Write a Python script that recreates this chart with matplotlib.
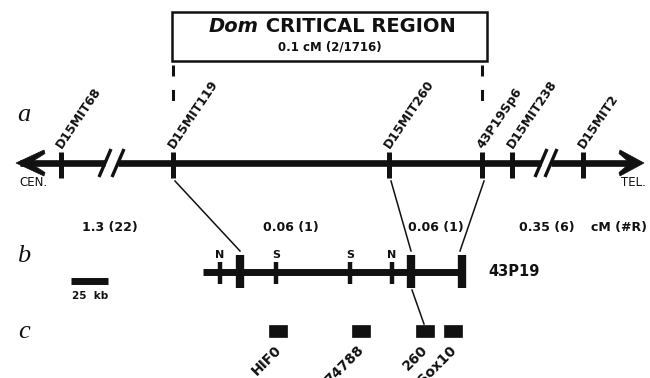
import matplotlib
matplotlib.use("Agg")
import matplotlib.pyplot as plt
from matplotlib.patches import Rectangle, Polygon
from matplotlib.offsetbox import TextArea, HPacker, AnnotationBbox

# ---------------- data ----------------
# panel a: genetic map markers (position along drawn map)
markers_a = ["D15MIT68", "D15MIT119", "D15MIT260", "43P19Sp6", "D15MIT238", "D15MIT2"]
markers_a_pos = [61, 173, 389, 482, 512, 583]
# intervals: genetic distance in cM (number of recombinants)
interval_labels = ["1.3 (22)", "0.06 (1)", "0.06 (1)", "0.35 (6)", "cM (#R)"]
interval_pos = [110, 291, 436, 547, 619]
# panel b: BAC 43P19 restriction map
sites_b = ["N", "S", "S", "N"]
sites_b_pos = [220, 276, 350, 392]
anchors_b_pos = [240, 411, 462]   # positions of D15MIT119, D15MIT260, 43P19Sp6 on BAC
bac_span = [203, 462]
# panel c: transcripts
genes_c = ["HIF0", "74788", "260", "Sox10"]
genes_c_pos = [278, 361, 425, 453]
critical_title = ("Dom", " CRITICAL REGION")
critical_sub = "0.1 cM (2/1716)"

BLK = "#111111"
W, H = 650, 378
fig = plt.figure(figsize=(W / 100, H / 100), dpi=100)
ax = fig.add_axes([0, 0, 1, 1])
ax.set_xlim(0, W)
ax.set_ylim(H, 0)
ax.axis("off")

SANS = "DejaVu Sans"
SERIF = "Liberation Serif"

# ---------- critical region box ----------
ax.add_patch(Rectangle((172, 12), 315, 49, fill=False, ec=BLK, lw=1.8))
pack = HPacker(children=[
    TextArea(critical_title[0], textprops=dict(fontsize=14, fontweight="bold",
                                               style="italic", family=SANS, color=BLK)),
    TextArea(critical_title[1], textprops=dict(fontsize=14, fontweight="bold",
                                               family=SANS, color=BLK)),
], pad=0, sep=0, align="baseline")
ab = AnnotationBbox(pack, (332, 27), xycoords="data", frameon=False,
                    box_alignment=(0.5, 0.5))
ax.add_artist(ab)
ax.text(330, 47, critical_sub, ha="center", va="center", fontsize=8.5,
        fontweight="bold", family=SANS, color=BLK)
for xd in (markers_a_pos[1], markers_a_pos[3]):
    ax.plot([xd, xd], [65, 103], color=BLK, lw=2.2, ls=(0, (3.6, 4.4)),
            solid_capstyle="butt", dash_capstyle="butt")

# ---------- panel a ----------
ya = 163
brk1 = (105, 118)
brk2 = (541, 551)
segs = [(20, brk1[0]), (brk1[1], brk2[0]), (brk2[1], 636)]
for x0, x1 in segs:
    ax.plot([x0, x1], [ya, ya], color=BLK, lw=4.8, solid_capstyle="butt")
for bx in (brk1, brk2):
    for xs in bx:
        ax.plot([xs - 6, xs + 6], [ya + 14, ya - 14], color=BLK, lw=2.4,
                solid_capstyle="butt")
ax.add_patch(Polygon([(16, ya), (44, ya - 13), (45, ya - 9.5), (30, ya),
                      (45, ya + 9.5), (44, ya + 13)], closed=True, fc=BLK, ec=BLK, lw=0.5))
ax.add_patch(Polygon([(644, ya), (620, ya - 13), (619, ya - 9.5), (630, ya),
                      (619, ya + 9.5), (620, ya + 13)], closed=True, fc=BLK, ec=BLK, lw=0.5))
for name, x in zip(markers_a, markers_a_pos):
    ax.plot([x, x], [152, 178], color=BLK, lw=3.6, solid_capstyle="butt")
    ax.text(x - 2, 147, name, rotation=56, rotation_mode="anchor", ha="left",
            va="center", fontsize=9, fontweight="bold", family=SANS, color=BLK)
ax.text(33, 183, "CEN.", ha="center", va="center", fontsize=8.5, family=SANS, color=BLK)
ax.text(633, 183, "TEL.", ha="center", va="center", fontsize=8.5, family=SANS, color=BLK)

for lbl, x in zip(interval_labels, interval_pos):
    ax.text(x, 227, lbl, ha="center", va="center", fontsize=9, fontweight="bold",
            family=SANS, color=BLK)

# panel letters
for lbl, y in (("a", 115), ("b", 256), ("c", 332)):
    ax.text(24, y, lbl, ha="center", va="center", fontsize=19, style="italic",
            family=SERIF, color=BLK)

# ---------- connecting lines a -> b ----------
conn_a = [markers_a_pos[1], markers_a_pos[2], markers_a_pos[3]]
for xa, xb in zip(conn_a, anchors_b_pos):
    ax.plot([xa + 2, xb - 2 if xb < xa else xb], [181, 251], color=BLK, lw=1.1)

# ---------- panel b ----------
yb = 272
ax.plot(bac_span, [yb, yb], color=BLK, lw=5, solid_capstyle="butt")
for lbl, x in zip(sites_b, sites_b_pos):
    ax.plot([x, x], [262, 284], color=BLK, lw=3.2, solid_capstyle="butt")
    ax.text(x, 255, lbl, ha="center", va="center", fontsize=8, fontweight="bold",
            family=SANS, color=BLK)
for x in anchors_b_pos:
    ax.plot([x, x], [255, 288], color=BLK, lw=6, solid_capstyle="butt")
ax.text(488, 272, "43P19", ha="left", va="center", fontsize=10.5, fontweight="bold",
        family=SANS, color=BLK)
# scale bar
ax.plot([71, 108], [281, 281], color=BLK, lw=5, solid_capstyle="butt")
ax.text(90, 296, "25  kb", ha="center", va="center", fontsize=7.5, fontweight="bold",
        family=SANS, color=BLK)

# b -> c
ax.plot([anchors_b_pos[1] + 1, genes_c_pos[2] - 1], [290, 324], color=BLK, lw=1.1)

# ---------- panel c ----------
for lbl, x in zip(genes_c, genes_c_pos):
    ax.add_patch(Rectangle((x - 9, 325), 18, 12, fc=BLK, ec=BLK, lw=0.5))
    ax.text(x + 1, 348, lbl, rotation=45, rotation_mode="anchor", ha="right",
            va="center", fontsize=10, fontweight="bold", family=SANS, color=BLK)

fig.savefig("out.png", dpi=100, facecolor="white")
